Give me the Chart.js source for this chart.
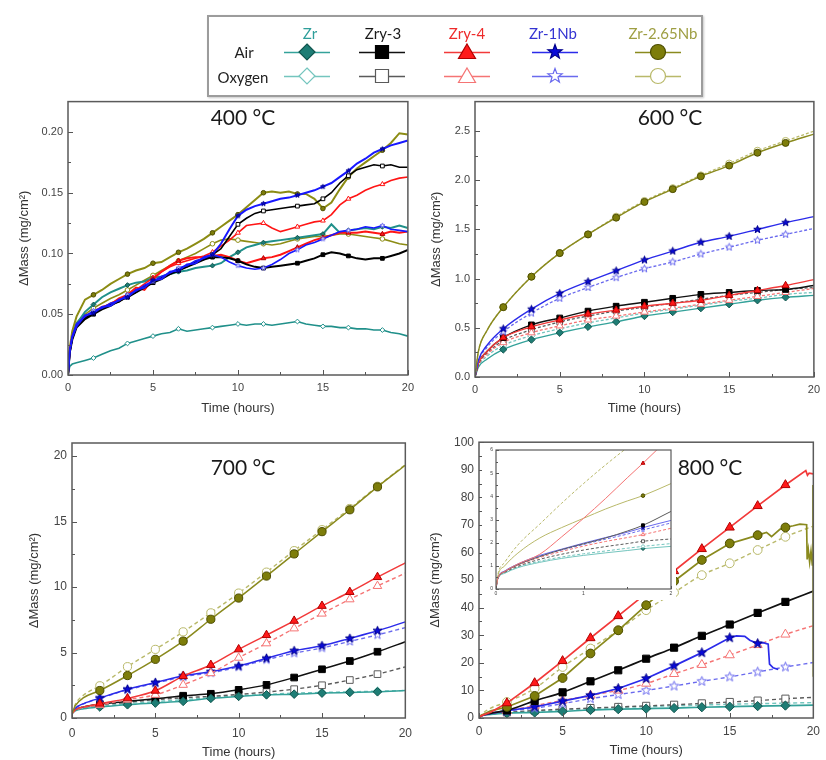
<!DOCTYPE html>
<html>
<head>
<meta charset="utf-8">
<script src="https://cdn.jsdelivr.net/npm/chart.js@4.4.1/dist/chart.umd.min.js"></script>
<style>
body { margin: 0; background: #fff; width: 826px; height: 760px; position: relative; overflow: hidden; }
canvas { position: absolute; }
.temp { position: absolute; font-family: Lato, "Open Sans", sans-serif; font-size: 21px; color: #1a1a1a; transform: translate(-50%, -50%); white-space: nowrap; z-index: 3; }
#legend { position: absolute; left: 207px; top: 15px; width: 492px; height: 78px; border: 2px solid #9c9c9c; box-shadow: 1px 1px 2px #c8c8c8; background: #fff; z-index: 2; }
#legend span { position: absolute; font-family: Lato, "Open Sans", sans-serif; font-size: 15px; transform: translate(-50%, -50%); white-space: nowrap; }
</style>
</head>
<body>
<canvas id="c400" width="420" height="335" style="left:0;top:90px"></canvas>
<canvas id="c600" width="406" height="335" style="left:420px;top:90px"></canvas>
<canvas id="c700" width="420" height="330" style="left:0;top:430px"></canvas>
<canvas id="c800" width="406" height="330" style="left:420px;top:430px"></canvas>
<canvas id="cInset" width="194" height="156" style="left:482px;top:444px;z-index:1"></canvas>

<div class="temp" style="left:243px;top:116px">400 °C</div>
<div class="temp" style="left:670px;top:116px">600 °C</div>
<div class="temp" style="left:243px;top:466px">700 °C</div>
<div class="temp" style="left:710px;top:466px">800 °C</div>

<div id="legend">
  <canvas id="legendMarks" width="492" height="78" style="left:0;top:0"></canvas>
  <span style="left:101px;top:16px;color:#2e9e9a">Zr</span>
  <span style="left:174px;top:16px;color:#1a1a1a">Zry-3</span>
  <span style="left:258px;top:16px;color:#ee2a2a">Zry-4</span>
  <span style="left:344px;top:16px;color:#3434d2">Zr-1Nb</span>
  <span style="left:454px;top:16px;color:#9e9e42">Zr-2.65Nb</span>
  <span style="left:35px;top:35px;color:#222">Air</span>
  <span style="left:34px;top:60px;color:#222">Oxygen</span>
</div>

<script>
// ---- data -------------------------------------------------------------

const alloys = ['Zr', 'Zry-3', 'Zry-4', 'Zr-1Nb', 'Zr-2.65Nb']

const hoursTicks = [0, 5, 10, 15, 20]
const markerHours = [1.67, 3.33, 5, 6.67, 8.33, 10, 11.67, 13.33, 15, 16.67, 18.33]
const hours = [0, 0.2, 0.7, 1.67, 3.33, 5, 6.67, 8.33, 10, 11.67, 13.33, 15, 16.67, 18.33, 20]

// 400 °C (noisy TGA traces)
const yTicks400 = [0, 0.05, 0.10, 0.15, 0.20]
const markerHours400 = [1.5, 3.5, 5, 6.5, 8.5, 10, 11.5, 13.5, 15, 16.5, 18.5]
const hours400 = [0, 0.1, 0.25, 0.5, 1, 1.5, 2, 2.5, 3, 3.5, 4, 4.5, 5, 5.5, 6, 6.5, 7, 7.5, 8, 8.5,
  9, 9.5, 10, 10.5, 11, 11.5, 12, 12.5, 13, 13.5, 14, 14.5, 15, 15.5, 16, 16.5, 17, 17.5, 18, 18.5, 19, 19.5, 20]
const zrAir400 = [0, 0.019, 0.031, 0.042, 0.052, 0.058, 0.064, 0.068, 0.071, 0.074,
  0.076, 0.077, 0.080, 0.081, 0.083, 0.085, 0.086, 0.088, 0.089, 0.090,
  0.092, 0.097, 0.101, 0.105, 0.107, 0.109, 0.110, 0.111, 0.112, 0.113,
  0.114, 0.115, 0.116, 0.124, 0.117, 0.119, 0.120, 0.121, 0.120, 0.122,
  0.121, 0.123, 0.121]
const zrOxy400 = [0, 0.007, 0.009, 0.010, 0.012, 0.014, 0.017, 0.020, 0.022, 0.026,
  0.028, 0.030, 0.032, 0.034, 0.035, 0.038, 0.036, 0.037, 0.038, 0.039,
  0.040, 0.041, 0.042, 0.041, 0.042, 0.042, 0.041, 0.042, 0.043, 0.044,
  0.042, 0.041, 0.040, 0.040, 0.039, 0.039, 0.038, 0.038, 0.037, 0.037,
  0.035, 0.034, 0.032]
const zry3Air400 = [0, 0.018, 0.029, 0.039, 0.046, 0.050, 0.054, 0.057, 0.061, 0.064,
  0.068, 0.072, 0.076, 0.079, 0.083, 0.086, 0.089, 0.092, 0.095, 0.097,
  0.097, 0.096, 0.094, 0.091, 0.089, 0.088, 0.089, 0.090, 0.091, 0.092,
  0.094, 0.096, 0.099, 0.101, 0.100, 0.098, 0.096, 0.095, 0.096, 0.096,
  0.098, 0.100, 0.103]
const zry3Oxy400 = [0, 0.018, 0.030, 0.040, 0.047, 0.051, 0.055, 0.058, 0.060, 0.065,
  0.068, 0.073, 0.076, 0.080, 0.083, 0.087, 0.089, 0.093, 0.095, 0.099,
  0.104, 0.114, 0.124, 0.129, 0.133, 0.135, 0.136, 0.137, 0.138, 0.139,
  0.140, 0.141, 0.145, 0.150, 0.158, 0.164, 0.169, 0.171, 0.173, 0.172,
  0.173, 0.171, 0.171]
const zry4Air400 = [0, 0.020, 0.031, 0.041, 0.048, 0.052, 0.056, 0.058, 0.063, 0.066,
  0.072, 0.070, 0.079, 0.085, 0.090, 0.094, 0.096, 0.097, 0.097, 0.098,
  0.099, 0.097, 0.094, 0.092, 0.094, 0.096, 0.097, 0.099, 0.102, 0.105,
  0.108, 0.111, 0.113, 0.115, 0.117, 0.117, 0.117, 0.118, 0.117, 0.116,
  0.118, 0.117, 0.118]
const zry4Oxy400 = [0, 0.019, 0.030, 0.040, 0.047, 0.052, 0.055, 0.059, 0.062, 0.066,
  0.070, 0.075, 0.080, 0.085, 0.089, 0.092, 0.094, 0.096, 0.098, 0.101,
  0.106, 0.111, 0.117, 0.123, 0.124, 0.125, 0.121, 0.118, 0.120, 0.122,
  0.124, 0.126, 0.127, 0.132, 0.140, 0.145, 0.148, 0.152, 0.155, 0.157,
  0.160, 0.162, 0.163]
const nb1Air400 = [0, 0.019, 0.031, 0.040, 0.049, 0.051, 0.056, 0.057, 0.062, 0.064,
  0.070, 0.072, 0.078, 0.079, 0.085, 0.086, 0.091, 0.092, 0.097, 0.099,
  0.108, 0.120, 0.131, 0.136, 0.139, 0.141, 0.143, 0.145, 0.146, 0.148,
  0.150, 0.152, 0.155, 0.158, 0.163, 0.168, 0.174, 0.178, 0.183, 0.186,
  0.189, 0.191, 0.193]
const nb1Oxy400 = [0, 0.020, 0.032, 0.042, 0.048, 0.053, 0.055, 0.059, 0.061, 0.066,
  0.069, 0.074, 0.077, 0.081, 0.084, 0.088, 0.090, 0.094, 0.096, 0.099,
  0.097, 0.093, 0.090, 0.088, 0.087, 0.088, 0.091, 0.095, 0.100, 0.103,
  0.107, 0.109, 0.112, 0.115, 0.118, 0.119, 0.120, 0.122, 0.121, 0.123,
  0.120, 0.119, 0.118]
const nb265Air400 = [0, 0.022, 0.036, 0.048, 0.062, 0.066, 0.070, 0.075, 0.079, 0.083,
  0.086, 0.088, 0.092, 0.093, 0.097, 0.101, 0.104, 0.108, 0.112, 0.117,
  0.122, 0.127, 0.132, 0.138, 0.144, 0.150, 0.151, 0.150, 0.151, 0.149,
  0.149, 0.145, 0.137, 0.142, 0.153, 0.163, 0.170, 0.175, 0.180, 0.185,
  0.191, 0.199, 0.198]
const nb265Oxy400 = [0, 0.020, 0.032, 0.043, 0.050, 0.055, 0.059, 0.063, 0.066, 0.070,
  0.074, 0.078, 0.082, 0.086, 0.090, 0.094, 0.097, 0.100, 0.104, 0.108,
  0.111, 0.112, 0.111, 0.110, 0.109, 0.108, 0.107, 0.108, 0.110, 0.112,
  0.113, 0.114, 0.114, 0.115, 0.116, 0.116, 0.115, 0.114, 0.113, 0.112,
  0.110, 0.108, 0.107]

// 600 °C
const yTicks600 = [0, 0.5, 1.0, 1.5, 2.0, 2.5]
const zrAir600 = [0, 0.10, 0.18, 0.28, 0.38, 0.45, 0.51, 0.56, 0.62, 0.66, 0.70, 0.74, 0.78, 0.81, 0.83]
const zrOxy600 = [0, 0.11, 0.21, 0.32, 0.42, 0.49, 0.55, 0.60, 0.65, 0.69, 0.73, 0.77, 0.80, 0.84, 0.86]
const zry3Air600 = [0, 0.14, 0.26, 0.40, 0.53, 0.60, 0.67, 0.72, 0.76, 0.80, 0.84, 0.86, 0.88, 0.89, 0.93]
const zry3Oxy600 = [0, 0.13, 0.24, 0.37, 0.48, 0.56, 0.62, 0.67, 0.71, 0.75, 0.79, 0.83, 0.86, 0.89, 0.91]
const zry4Air600 = [0, 0.14, 0.26, 0.40, 0.51, 0.58, 0.64, 0.68, 0.72, 0.75, 0.78, 0.83, 0.88, 0.93, 0.99]
const zry4Oxy600 = [0, 0.12, 0.23, 0.35, 0.45, 0.52, 0.58, 0.62, 0.66, 0.70, 0.74, 0.78, 0.82, 0.86, 0.90]
const nb1Air600 = [0, 0.17, 0.32, 0.49, 0.69, 0.85, 0.97, 1.08, 1.19, 1.28, 1.37, 1.43, 1.50, 1.57, 1.63]
const nb1Oxy600 = [0, 0.16, 0.30, 0.46, 0.65, 0.80, 0.91, 1.01, 1.10, 1.17, 1.25, 1.32, 1.39, 1.45, 1.51]
const nb265Air600 = [0, 0.26, 0.47, 0.71, 1.02, 1.26, 1.45, 1.62, 1.78, 1.91, 2.04, 2.15, 2.28, 2.38, 2.47]
const nb265Oxy600 = [0, 0.26, 0.47, 0.71, 1.02, 1.26, 1.45, 1.63, 1.79, 1.92, 2.05, 2.17, 2.30, 2.40, 2.50]

// 700 °C
const yTicks700 = [0, 5, 10, 15, 20]
const zrAir700 = [0.35, 0.55, 0.70, 0.84, 1.01, 1.14, 1.27, 1.50, 1.65, 1.77, 1.82, 1.90, 1.95, 2.00, 2.10]
const zrOxy700 = [0.35, 0.58, 0.75, 0.90, 1.10, 1.25, 1.40, 1.55, 1.70, 1.80, 1.90, 1.95, 2.00, 2.05, 2.10]
const zry3Air700 = [0.35, 0.62, 0.85, 1.06, 1.27, 1.47, 1.70, 1.85, 2.15, 2.53, 3.09, 3.72, 4.35, 5.06, 5.82]
const zry3Oxy700 = [0.35, 0.60, 0.80, 1.00, 1.20, 1.40, 1.55, 1.65, 1.80, 1.98, 2.20, 2.50, 2.90, 3.35, 3.90]
const zry4Air700 = [0.35, 0.62, 0.85, 1.09, 1.50, 2.08, 3.20, 4.05, 5.24, 6.33, 7.42, 8.56, 9.62, 10.76, 11.85]
const zry4Oxy700 = [0.35, 0.60, 0.80, 1.00, 1.40, 1.77, 2.53, 3.42, 4.60, 5.70, 6.84, 7.97, 9.06, 10.08, 11.06]
const nb1Air700 = [0.35, 0.75, 1.10, 1.52, 2.20, 2.71, 3.22, 3.54, 3.97, 4.56, 5.14, 5.52, 6.08, 6.66, 7.34]
const nb1Oxy700 = [0.35, 0.73, 1.08, 1.50, 2.15, 2.65, 3.15, 3.45, 3.90, 4.45, 4.95, 5.35, 5.85, 6.35, 6.90]
const nb265Air700 = [0.35, 0.95, 1.55, 2.10, 3.24, 4.48, 5.87, 7.54, 9.16, 10.84, 12.53, 14.23, 15.90, 17.65, 19.30]
const nb265Oxy700 = [0.35, 1.05, 1.75, 2.46, 3.92, 5.24, 6.58, 8.03, 9.54, 11.14, 12.78, 14.38, 16.00, 17.70, 19.35]

// 800 °C
const yTicks800 = [0, 10, 20, 30, 40, 50, 60, 70, 80, 90, 100]
const zrAir800 = [0.3, 0.9, 1.3, 1.75, 2.0, 2.4, 2.9, 3.2, 3.4, 3.6, 3.9, 4.1, 4.3, 4.5, 4.7]
const zrOxy800 = [0.3, 0.95, 1.4, 1.9, 2.4, 2.9, 3.4, 3.8, 4.1, 4.4, 4.7, 5.0, 5.2, 5.4, 5.6]
const zry3Air800 = [0.3, 1.0, 1.7, 2.75, 6.2, 9.3, 13.3, 17.3, 21.5, 25.5, 29.8, 33.9, 38.1, 42.1, 46.0]
const zry3Oxy800 = [0.3, 0.95, 1.5, 2.05, 2.7, 3.2, 3.6, 4.0, 4.4, 4.8, 5.3, 5.8, 6.3, 7.0, 7.5]
const zry4Hours800 = [0, 0.2, 0.7, 1.67, 3.33, 5, 6.67, 8.33, 10, 11.67, 13.33, 15, 16.67, 18.33, 19.55, 19.65, 19.75, 20]
const zry4Air800 = [0.3, 0.95, 2.1, 5.4, 12.7, 20.7, 29.0, 37.0, 45.2, 53.3, 61.3, 69.1, 76.9, 84.5, 89.7, 88.0, 88.8, 88.5]
const zry4Oxy800 = [0.3, 0.95, 1.6, 2.6, 4.5, 6.4, 8.2, 10.0, 12.5, 16.0, 19.3, 22.8, 26.5, 30.3, 33.5]
const nb1Hours800 = [0, 0.2, 0.7, 1.67, 3.33, 5, 6.67, 8.33, 10, 11.67, 13.33, 15, 15.4, 15.9, 16.2, 16.67, 17.0, 17.3, 17.38, 17.6, 17.9]
const nb1Air800 = [0.3, 0.95, 1.7, 2.65, 4.0, 6.1, 8.2, 10.7, 14.3, 18.9, 23.7, 29.1, 29.8, 29.6, 28.2, 27.0, 27.3, 26.8, 19.5, 18.2, 17.6]
const nb1Oxy800 = [0.3, 0.95, 1.65, 2.55, 3.6, 5.2, 7.0, 8.5, 10.0, 11.6, 13.3, 14.9, 16.7, 18.5, 20.1]
const nb265Hours800 = [0, 0.2, 0.7, 1.67, 3.33, 5, 6.67, 8.33, 10, 11.67, 13.33, 15, 15.6, 16.1, 16.67, 17.2, 17.5, 18.0,
  18.33, 18.8, 19.2, 19.6, 19.63, 19.7, 19.78, 19.86, 19.94, 19.98, 20]
const nb265Air800 = [0.3, 1.2, 2.6, 4.0, 8.0, 14.5, 23.4, 31.8, 40.9, 49.6, 57.3, 63.3, 64.3, 65.2, 66.3, 67.3, 65.8, 68.4,
  69.1, 69.7, 70.3, 70.1, 57.5, 61.0, 56.5, 60.5, 55.5, 84.5, 15.0]
const nb265Oxy800 = [0.3, 1.6, 3.6, 5.8, 10.7, 18.5, 25.2, 31.8, 39.1, 45.5, 51.8, 56.1, 60.9, 65.7, 69.6]

// 800 °C inset, first two hours
const insetXTicks = [0, 1, 2]
const insetYTicks = [0, 1, 2, 3, 4, 5, 6]
const insetMarkerHours = [1.68]
const insetHours = [0, 0.02, 0.1, 0.25, 0.5, 0.75, 1.0, 1.25, 1.5, 1.68, 2.0]
const zrAirIn = [0, 0.42, 0.68, 0.92, 1.15, 1.32, 1.45, 1.56, 1.66, 1.74, 1.84]
const zrOxyIn = [0, 0.43, 0.70, 0.95, 1.20, 1.38, 1.52, 1.64, 1.76, 1.84, 1.96]
const zry3AirIn = [0, 0.45, 0.75, 1.05, 1.40, 1.70, 1.95, 2.20, 2.50, 2.75, 3.35]
const zry3OxyIn = [0, 0.44, 0.72, 0.98, 1.28, 1.50, 1.68, 1.83, 1.96, 2.06, 2.16]
const zry4AirIn = [0, 0.45, 0.76, 1.08, 1.50, 2.25, 3.05, 3.90, 4.80, 5.43, 6.60]
const zry4OxyIn = [0, 0.44, 0.74, 1.02, 1.36, 1.62, 1.85, 2.05, 2.22, 2.35, 2.62]
const nb1AirIn = [0, 0.46, 0.78, 1.08, 1.45, 1.72, 1.98, 2.22, 2.45, 2.65, 2.96]
const nb1OxyIn = [0, 0.46, 0.77, 1.06, 1.42, 1.68, 1.92, 2.15, 2.37, 2.55, 2.85]
const nb265AirIn = [0, 0.55, 1.00, 1.55, 2.20, 2.65, 3.05, 3.45, 3.80, 4.03, 4.55]
const nb265OxyIn = [0, 0.60, 1.15, 1.90, 2.80, 3.70, 4.55, 5.35, 6.10, 6.60, 7.60]

// ---- look -------------------------------------------------------------

const looks = {
  'Zr':        {shape: 'rectRot',  size: 1.05, line: '#34a29a', oxy: '#74c5be', fill: '#1e7d75', edge: '#12564f', solid: '#20908a'},
  'Zry-3':     {shape: 'rect',     size: 1.15, line: '#111111', oxy: '#5a5a5a', fill: '#000000', edge: '#000000', solid: '#000000'},
  'Zry-4':     {shape: 'triangle', size: 1.2,  line: '#f23a3a', oxy: '#f57474', fill: '#ff1a1a', edge: '#b00000', solid: '#ff1515'},
  'Zr-1Nb':    {shape: 'star',     size: 1.0,  line: '#2b2bea', oxy: '#6a6aee', fill: '#0a0ad8', edge: '#00008a', solid: '#1818ff'},
  'Zr-2.65Nb': {shape: 'circle',   size: 1.0,  line: '#8a8a1e', oxy: '#b9b96a', fill: '#7d7d0a', edge: '#4d4d00', solid: '#8c8c14'}
}
const axisFont = 'Liberation Sans, Arial, sans-serif'

function starPath(g, cx, cy, R, r) {
  g.beginPath()
  for (let i = 0; i < 10; i++) {
    const rad = i % 2 ? r : R
    const a = -Math.PI / 2 + i * Math.PI / 5
    g.lineTo(cx + rad * Math.cos(a), cy + rad * Math.sin(a))
  }
  g.closePath()
}

const starCache = {}
function starFor(r, filled, k) {
  const key = r + (filled ? 'f' : 'o')
  if (!starCache[key]) {
    const R = r * 1.12
    const c = document.createElement('canvas')
    c.width = c.height = Math.ceil(2 * R + 3)
    const g = c.getContext('2d')
    starPath(g, c.width / 2, c.height / 2, R, R * 0.42)
    g.fillStyle = filled ? k.fill : '#fff'
    g.fill()
    g.lineWidth = 1
    g.strokeStyle = filled ? k.edge : k.oxy
    g.stroke()
    starCache[key] = c
  }
  return starCache[key]
}

function curve(xs, ys, alloy, air, o) {
  const k = looks[alloy]
  const color = o.solid ? k.solid : (air && !o.faint ? k.line : k.oxy)
  return {
    data: xs.map((x, i) => ({x: x, y: ys[i]})),
    borderColor: color,
    borderWidth: air ? o.width : o.oxyWidth,
    borderDash: air ? [] : o.dash,
    cubicInterpolationMode: o.smooth ? 'monotone' : 'default',
    tension: 0,
    pointStyle: k.shape === 'star' ? starFor(o.r, air, k) : k.shape,
    pointRadius: c => (c.raw && o.marks.includes(c.raw.x)) ? o.r * k.size : 0,
    pointBackgroundColor: air ? k.fill : '#fff',
    pointBorderColor: air ? k.edge : (o.solid ? k.solid : k.oxy),
    pointBorderWidth: 1
  }
}

// box around the plot with inward ticks
const frame = {
  id: 'frame',
  beforeDraw(chart, args, o) {
    if (!o.fill) return
    const g = chart.ctx
    g.save()
    g.fillStyle = '#fff'
    g.fillRect(0, 0, chart.width, chart.height)
    g.restore()
  },
  afterDatasetsDraw(chart, args, o) {
    const {ctx: g, chartArea: a, scales: {x, y}} = chart
    const mids = t => t.slice(1).map((v, i) => (v + t[i]) / 2)
    g.save()
    g.strokeStyle = '#555'
    g.lineWidth = 1
    g.beginPath()
    const xt = (list, len) => list.forEach(v => {
      const p = Math.round(x.getPixelForValue(v)) + 0.5
      g.moveTo(p, a.bottom); g.lineTo(p, a.bottom - len)
    })
    const yt = (list, len) => list.forEach(v => {
      const p = Math.round(y.getPixelForValue(v)) + 0.5
      g.moveTo(a.left, p); g.lineTo(a.left + len, p)
    })
    xt(o.xTicks, o.major); xt(mids(o.xTicks), o.minor)
    yt(o.yTicks, o.major); yt(mids(o.yTicks), o.minor)
    g.stroke()
    g.lineWidth = o.border
    g.strokeStyle = '#5a5a5a'
    g.strokeRect(a.left, a.top, a.width, a.height)
    g.restore()
  }
}

function panel(id, datasets, p) {
  return new Chart(document.getElementById(id), {
    type: 'line',
    data: {datasets: datasets},
    plugins: [frame],
    options: {
      responsive: false,
      animation: false,
      events: [],
      layout: {padding: p.pad},
      plugins: {
        legend: {display: false},
        tooltip: {enabled: false},
        frame: {xTicks: p.xTicks, yTicks: p.yTicks, major: p.major || 5, minor: p.minor || 3, border: p.border || 1.5, fill: p.fill}
      },
      scales: {
        x: {
          type: 'linear', min: 0, max: p.xMax,
          grid: {display: false, drawTicks: false}, border: {display: false},
          afterBuildTicks: s => { s.ticks = p.xTicks.map(v => ({value: v})) },
          afterFit: s => { s.height = p.xH },
          ticks: {font: {family: axisFont, size: p.font}, color: '#444', padding: p.xPad, maxRotation: 0, autoSkip: false},
          title: {display: !!p.titles, text: 'Time (hours)', font: {family: axisFont, size: 13}, color: '#333', padding: {top: 0, bottom: p.xTitlePad || 0}}
        },
        y: {
          type: 'linear', min: 0, max: p.yMax,
          grid: {display: false, drawTicks: false}, border: {display: false},
          afterBuildTicks: s => { s.ticks = p.yTicks.map(v => ({value: v})) },
          afterFit: s => { s.width = p.yW },
          ticks: {font: {family: axisFont, size: p.font}, color: '#444', padding: p.yPad || 5, autoSkip: false, callback: p.yFmt || (v => v)},
          title: {display: !!p.titles, text: 'ΔMass (mg/cm²)', font: {family: axisFont, size: 13}, color: '#333', padding: {top: p.yTitlePad || 0, bottom: 0}}
        }
      }
    }
  })
}

// ---- panels -----------------------------------------------------------

const noisy = {width: 2, oxyWidth: 1.6, dash: [], r: 2.3, marks: markerHours400, smooth: false, solid: true}
panel('c400', [
  curve(hours400, nb1Air400, 'Zr-1Nb', true, noisy),
  curve(hours400, nb1Oxy400, 'Zr-1Nb', false, noisy),
  curve(hours400, zry3Air400, 'Zry-3', true, noisy),
  curve(hours400, zry3Oxy400, 'Zry-3', false, noisy),
  curve(hours400, zry4Air400, 'Zry-4', true, noisy),
  curve(hours400, zry4Oxy400, 'Zry-4', false, noisy),
  curve(hours400, zrAir400, 'Zr', true, noisy),
  curve(hours400, nb265Air400, 'Zr-2.65Nb', true, noisy),
  curve(hours400, nb265Oxy400, 'Zr-2.65Nb', false, noisy),
  curve(hours400, zrOxy400, 'Zr', false, noisy)
], {pad: {top: 8, right: 7}, xMax: 20, yMax: 0.225, xTicks: hoursTicks, yTicks: yTicks400, xH: 50, yW: 68,
  font: 11, xPad: 6, titles: true, xTitlePad: 9, yTitlePad: 17, yFmt: v => v.toFixed(2)})

const mild = {width: 1.4, oxyWidth: 1.3, dash: [3, 2], r: 3.5, marks: markerHours, smooth: true}
panel('c600', [
  curve(hours, nb265Air600, 'Zr-2.65Nb', true, mild),
  curve(hours, nb265Oxy600, 'Zr-2.65Nb', false, mild),
  curve(hours, nb1Air600, 'Zr-1Nb', true, mild),
  curve(hours, nb1Oxy600, 'Zr-1Nb', false, mild),
  curve(hours, zry4Air600, 'Zry-4', true, mild),
  curve(hours, zry3Air600, 'Zry-3', true, mild),
  curve(hours, zry4Oxy600, 'Zry-4', false, mild),
  curve(hours, zry3Oxy600, 'Zry-3', false, mild),
  curve(hours, zrAir600, 'Zr', true, mild),
  curve(hours, zrOxy600, 'Zr', false, mild)
], {pad: {top: 10, right: 6}, xMax: 20, yMax: 2.8, xTicks: hoursTicks, yTicks: yTicks600, xH: 48, yW: 55,
  font: 11, xPad: 6, titles: true, xTitlePad: 9, yTitlePad: 9, yFmt: v => v.toFixed(1)})

const smooth = {width: 1.5, oxyWidth: 1.4, dash: [4, 3], r: 4.1, marks: markerHours, smooth: true}
panel('c700', [
  curve(hours, nb265Air700, 'Zr-2.65Nb', true, smooth),
  curve(hours, nb265Oxy700, 'Zr-2.65Nb', false, smooth),
  curve(hours, zry4Air700, 'Zry-4', true, smooth),
  curve(hours, zry4Oxy700, 'Zry-4', false, smooth),
  curve(hours, nb1Air700, 'Zr-1Nb', true, smooth),
  curve(hours, nb1Oxy700, 'Zr-1Nb', false, smooth),
  curve(hours, zrAir700, 'Zr', true, smooth),
  curve(hours, zry3Air700, 'Zry-3', true, smooth),
  curve(hours, zry3Oxy700, 'Zry-3', false, smooth),
  curve(hours, zrOxy700, 'Zr', false, smooth)
], {pad: {top: 13, right: 6}, xMax: 20, yMax: 21, xTicks: hoursTicks, yTicks: yTicks700, xH: 42, yW: 72,
  font: 12, xPad: 8, titles: true, xTitlePad: 0, yTitlePad: 27})

const hot = {width: 1.7, oxyWidth: 1.4, dash: [4, 3], r: 4.4, marks: markerHours, smooth: true}
const hotRaw = {width: 1.7, oxyWidth: 1.4, dash: [4, 3], r: 4.4, marks: markerHours, smooth: false}
panel('c800', [
  curve(zry4Hours800, zry4Air800, 'Zry-4', true, hotRaw),
  curve(nb265Hours800, nb265Air800, 'Zr-2.65Nb', true, hotRaw),
  curve(hours, nb265Oxy800, 'Zr-2.65Nb', false, hot),
  curve(hours, zry3Air800, 'Zry-3', true, hot),
  curve(nb1Hours800, nb1Air800, 'Zr-1Nb', true, hotRaw),
  curve(hours, zry4Oxy800, 'Zry-4', false, hot),
  curve(hours, nb1Oxy800, 'Zr-1Nb', false, hot),
  curve(hours, zrAir800, 'Zr', true, hot),
  curve(hours, zry3Oxy800, 'Zry-3', false, hot),
  curve(hours, zrOxy800, 'Zr', false, hot)
], {pad: {top: 12, right: 3}, xMax: 20, yMax: 100, xTicks: hoursTicks, yTicks: yTicks800, xH: 42, yW: 59,
  font: 12, xPad: 6, titles: true, xTitlePad: 2, yTitlePad: 8})

const thin = {width: 1, oxyWidth: 1, dash: [3, 2], r: 1.8, marks: insetMarkerHours, smooth: true, faint: true}
panel('cInset', [
  curve(insetHours, zry4AirIn, 'Zry-4', true, thin),
  curve(insetHours, nb265AirIn, 'Zr-2.65Nb', true, thin),
  curve(insetHours, nb265OxyIn, 'Zr-2.65Nb', false, thin),
  curve(insetHours, zry3AirIn, 'Zry-3', true, thin),
  curve(insetHours, nb1AirIn, 'Zr-1Nb', true, thin),
  curve(insetHours, nb1OxyIn, 'Zr-1Nb', false, thin),
  curve(insetHours, zry4OxyIn, 'Zry-4', false, thin),
  curve(insetHours, zry3OxyIn, 'Zry-3', false, thin),
  curve(insetHours, zrOxyIn, 'Zr', false, thin),
  curve(insetHours, zrAirIn, 'Zr', true, thin)
], {pad: {top: 5, right: 5}, xMax: 2, yMax: 6, xTicks: insetXTicks, yTicks: insetYTicks, xH: 11, yW: 14,
  font: 5, xPad: 2, yPad: 3, titles: false, major: 3, minor: 2, border: 1.2, fill: true})

// ---- legend markers ---------------------------------------------------

const legendX = [98, 173, 258, 346, 449]
const legendRows = [35, 59]
const lg = document.getElementById('legendMarks').getContext('2d')

function legendMark(shape, x, y, fill, edge) {
  lg.beginPath()
  if (shape === 'rectRot') {
    lg.moveTo(x, y - 8); lg.lineTo(x + 8, y); lg.lineTo(x, y + 8); lg.lineTo(x - 8, y); lg.closePath()
  } else if (shape === 'rect') {
    lg.rect(x - 6.5, y - 6.5, 13, 13)
  } else if (shape === 'triangle') {
    lg.moveTo(x, y - 8); lg.lineTo(x + 8.5, y + 6.5); lg.lineTo(x - 8.5, y + 6.5); lg.closePath()
  } else if (shape === 'star') {
    starPath(lg, x, y, 7.5, 3.1)
  } else {
    lg.arc(x, y, 7.5, 0, Math.PI * 2)
  }
  lg.fillStyle = fill
  lg.fill()
  lg.lineWidth = 1.2
  lg.strokeStyle = edge
  lg.stroke()
}

alloys.forEach((name, i) => {
  const k = looks[name]
  const x = legendX[i]
  legendRows.forEach((y, row) => {
    const air = row === 0
    lg.beginPath()
    lg.moveTo(x - 23, y + 0.5)
    lg.lineTo(x + 23, y + 0.5)
    lg.lineWidth = 1.3
    lg.strokeStyle = air ? k.line : k.oxy
    lg.stroke()
    legendMark(k.shape, x, y, air ? k.fill : '#fff', air ? k.edge : k.oxy)
  })
})
</script>
</body>
</html>
